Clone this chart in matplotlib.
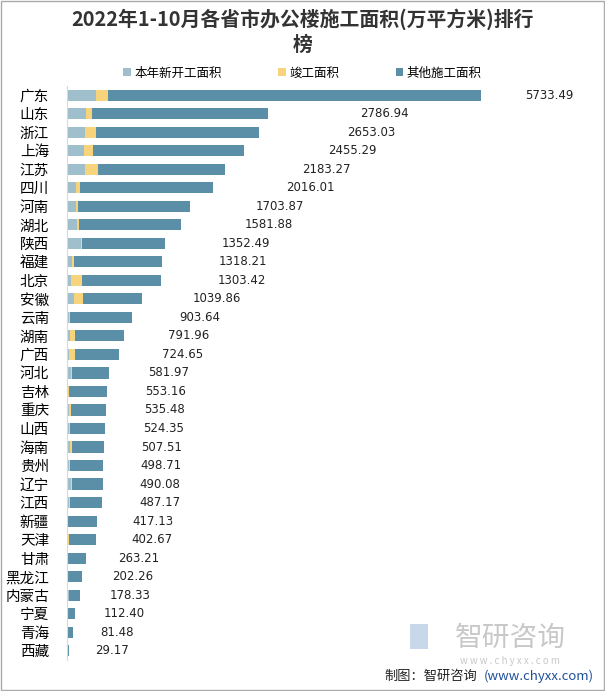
import matplotlib
matplotlib.use('Agg')
import matplotlib.pyplot as plt
from matplotlib.patches import Rectangle

plt.rcParams['font.family'] = ['Noto Sans CJK SC', 'DejaVu Sans']

provinces = ['广东', '山东', '浙江', '上海', '江苏', '四川', '河南', '湖北', '陕西', '福建',
             '北京', '安徽', '云南', '湖南', '广西', '河北', '吉林', '重庆', '山西', '海南',
             '贵州', '辽宁', '江西', '新疆', '天津', '甘肃', '黑龙江', '内蒙古', '宁夏', '青海', '西藏']
totals = [5733.49, 2786.94, 2653.03, 2455.29, 2183.27, 2016.01, 1703.87, 1581.88, 1352.49, 1318.21,
          1303.42, 1039.86, 903.64, 791.96, 724.65, 581.97, 553.16, 535.48, 524.35, 507.51,
          498.71, 490.08, 487.17, 417.13, 402.67, 263.21, 202.26, 178.33, 112.40, 81.48, 29.17]
new_start = [393, 268, 254, 236, 254, 129, 129, 143, 185, 69,
             60, 88, 20, 46, 32, 60, 14, 32, 32, 46,
             32, 60, 28, 12, 10, 6, 6, 28, 2, 2, 1]
completed = [180, 83, 139, 129, 180, 55, 28, 28, 14, 32,
             139, 125, 18, 69, 83, 5, 18, 28, 3, 28,
             3, 10, 10, 4, 15, 8, 8, 3, 1, 1, 0.5]
other = [t - a - b for t, a, b in zip(totals, new_start, completed)]

c_new = '#9fbfcc'
c_done = '#f7d47c'
c_other = '#5b8fa7'

fig = plt.figure(figsize=(6.05, 6.91), dpi=100)
ax = fig.add_axes([0.111, 0.045, 0.877, 0.8305])

ys = list(range(len(provinces)))
h = 0.6
ax.barh(ys, new_start, height=h, color=c_new, label='本年新开工面积')
ax.barh(ys, completed, height=h, left=new_start, color=c_done, label='竣工面积')
lefts = [a + b for a, b in zip(new_start, completed)]
ax.barh(ys, other, height=h, left=lefts, color=c_other, label='其他施工面积')

xmax = 7355
for y, t in zip(ys, totals):
    lx = min(1.33 * t + 350, 6350)
    ax.text(lx, y, f'{t:.2f}', va='center', ha='left', fontsize=8.5,
            family=['DejaVu Sans'], color='#222222')

ax.set_xlim(0, xmax)
ax.set_ylim(len(provinces) - 0.5, -0.5)
ax.set_yticks(ys)
ax.set_yticklabels(provinces, fontsize=10.5)
ax.tick_params(axis='y', length=0, pad=13)
ax.set_xticks([])
for s in ['top', 'right', 'bottom']:
    ax.spines[s].set_visible(False)
ax.spines['left'].set_color('#d9d9d9')

fig.text(0.5, 0.988, '2022年1-10月各省市办公楼施工面积(万平方米)排行\n榜', ha='center', va='top',
         fontsize=14.3, fontweight='bold', color='#333333', linespacing=1.25)

fig.legend(loc='center', bbox_to_anchor=(0.5, 0.894), ncol=3, frameon=False, fontsize=9,
           handlelength=0.6, handleheight=0.6, columnspacing=4.5, handletextpad=0.3)

# watermark
fig.text(0.843, 0.077, '智研咨询', ha='center', va='center', fontsize=20, color='#c8c8c8')
fig.text(0.843, 0.044, 'w w w . c h y x x . c o m', ha='center', va='center', fontsize=7, color='#c8c8c8')
fig.patches.append(Rectangle((0.677, 0.061), 0.03, 0.036, transform=fig.transFigure,
                             facecolor='#c9d7ea', edgecolor='none'))

fig.text(0.635, 0.021, '制图：智研咨询', ha='left', va='center', fontsize=9.5, color='#222222')
fig.text(0.800, 0.021, '(www.chyxx.com)', ha='left', va='center', fontsize=9.5, color='#1f4f9c')

fig.patches.append(Rectangle((0.001, 0.001), 0.997, 0.997, transform=fig.transFigure,
                             facecolor='none', edgecolor='#aaaaaa', linewidth=1))

fig.savefig('out.png', dpi=100)
